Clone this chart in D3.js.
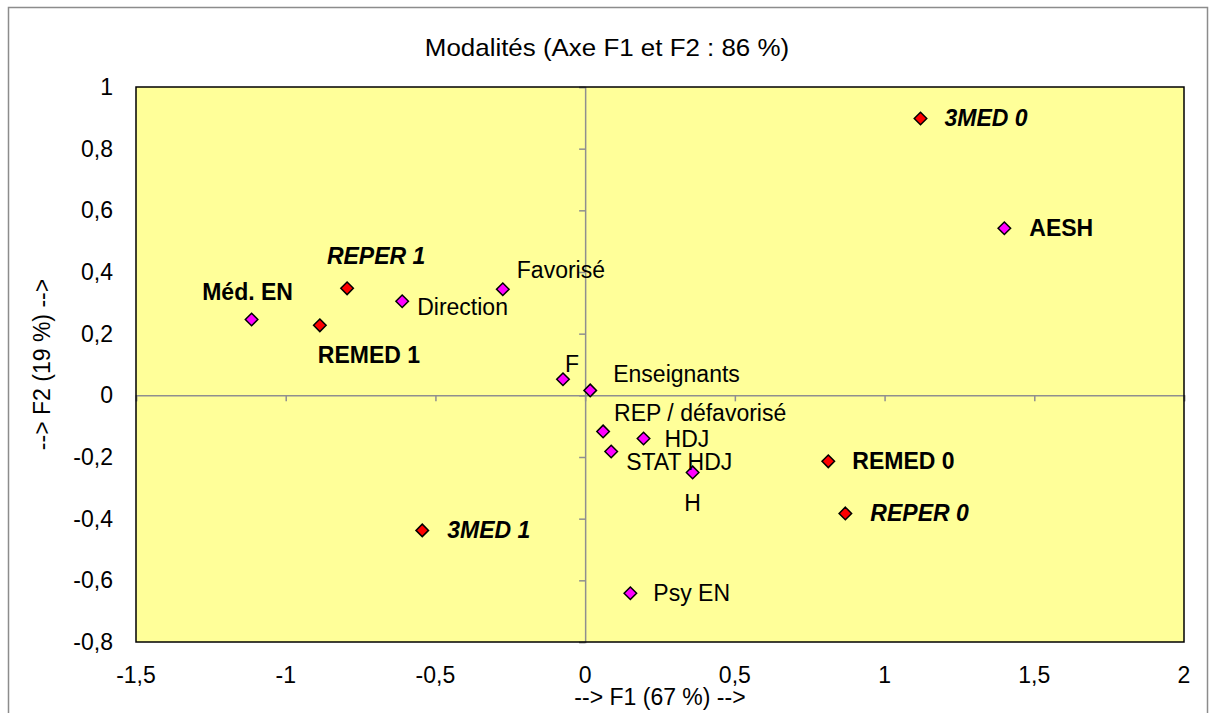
<!DOCTYPE html>
<html lang="fr">
  <head>
    <meta charset="utf-8">
    <script src="https://d3js.org/d3.v7.min.js"></script>
    <style>
      body {margin: 0; background: #fff;}
      text {font-family: "Liberation Sans", Arial, sans-serif; fill: #000;}
    </style>
  </head>
  <body>
    <script type="text/javascript">
      // modalities and their coordinates on F1 / F2
      const labels = ["3MED 0", "AESH", "REPER 1", "Méd. EN", "REMED 1", "Direction",
        "Favorisé", "F", "Enseignants", "REP / défavorisé", "HDJ", "STAT HDJ", "H",
        "REMED 0", "REPER 0", "3MED 1", "Psy EN"];
      const f1 = [1.12, 1.40, -0.795, -1.114, -0.886, -0.611, -0.275, -0.074, 0.017,
        0.06, 0.195, 0.087, 0.359, 0.812, 0.869, -0.544, 0.151];
      const f2 = [0.898, 0.542, 0.347, 0.246, 0.227, 0.305, 0.344, 0.052, 0.016,
        -0.117, -0.14, -0.182, -0.25, -0.214, -0.383, -0.438, -0.642];
      // "active" = red, "supp" = magenta
      const kind = ["active", "supp", "active", "supp", "active", "supp", "supp", "supp",
        "supp", "supp", "supp", "supp", "supp", "active", "active", "active", "supp"];
      const xTicks = [-1.5, -1, -0.5, 0, 0.5, 1, 1.5, 2];
      const yTicks = [-0.8, -0.6, -0.4, -0.2, 0, 0.2, 0.4, 0.6, 0.8, 1];

      // label placement (dx, dy in px, anchor) and font style, per point
      const place = [[24, 0, "start"], [25, 0, "start"], [29, -32, "middle"], [-4, -27, "middle"],
        [-2, 30, "start"], [15, 6, "start"], [14, -19, "start"], [2, -15, "start"],
        [23, -16, "start"], [11, -18, "start"], [21, 0, "start"], [15, 11, "start"],
        [0, 31, "middle"], [24, 0, "start"], [25, 0, "start"], [25, 0, "start"], [23, 0, "start"]];
      const fontStyle = ["bi", "b", "bi", "b", "b", "n", "n", "n", "n", "n", "n", "n", "n",
        "b", "bi", "bi", "n"];

      const w = 1211;
      const h = 713;
      const fs = 23;
      const plot = {left: 136, right: 1184, top: 87, bottom: 642};

      var svg = d3.select("body").append("svg")
          .attr("width", w)
          .attr("height", h);

      // outer chart frame
      svg.append("rect")
          .attr("x", 8.5).attr("y", 7.5)
          .attr("width", 1199).attr("height", 710)
          .attr("fill", "#fff")
          .attr("stroke", "#8c8c8c")
          .attr("stroke-width", 1.5);

      var x = d3.scaleLinear().domain([-1.5, 2]).range([plot.left, plot.right]);
      var y = d3.scaleLinear().domain([-0.8, 1]).range([plot.bottom, plot.top]);

      const fmt = function(d) { return String(d).replace(".", ","); };

      // plot area
      svg.append("rect")
          .attr("x", plot.left).attr("y", plot.top)
          .attr("width", plot.right - plot.left)
          .attr("height", plot.bottom - plot.top)
          .attr("fill", "#ffff99");

      // zero axes with ticks
      var xAxis = d3.axisBottom(x).tickValues(xTicks).tickSize(6).tickFormat("");
      var yAxis = d3.axisLeft(y).tickValues(yTicks).tickSize(6).tickFormat("");
      svg.append("g")
          .attr("transform", "translate(0," + y(0) + ")")
          .call(xAxis)
          .call(g => g.selectAll("path, line").attr("stroke", "#8f8f8f").attr("stroke-width", 1.5));
      svg.append("g")
          .attr("transform", "translate(" + x(0) + ",0)")
          .call(yAxis)
          .call(g => g.selectAll("path, line").attr("stroke", "#8f8f8f").attr("stroke-width", 1.5));

      // plot border
      svg.append("rect")
          .attr("x", plot.left).attr("y", plot.top)
          .attr("width", plot.right - plot.left)
          .attr("height", plot.bottom - plot.top)
          .attr("fill", "none")
          .attr("stroke", "#000")
          .attr("stroke-width", 1.5);

      // tick labels along plot edges
      svg.selectAll(".xlab")
          .data(xTicks)
          .enter().append("text")
          .attr("x", d => x(d))
          .attr("y", 683)
          .attr("text-anchor", "middle")
          .attr("font-size", fs)
          .text(fmt);
      svg.selectAll(".ylab")
          .data(yTicks)
          .enter().append("text")
          .attr("x", 113)
          .attr("y", d => y(d) + 8)
          .attr("text-anchor", "end")
          .attr("font-size", fs)
          .text(fmt);

      // titles
      svg.append("text")
          .attr("x", 607).attr("y", 56)
          .attr("text-anchor", "middle")
          .attr("font-size", 24)
          .attr("transform", "translate(607,0) scale(1.08,1) translate(-607,0)")
          .text("Modalités (Axe F1 et F2 : 86 %)");
      svg.append("text")
          .attr("x", (plot.left + plot.right) / 2).attr("y", 705)
          .attr("text-anchor", "middle")
          .attr("font-size", fs)
          .text("--> F1 (67 %) -->");
      svg.append("text")
          .attr("transform", "translate(50," + (plot.top + plot.bottom) / 2 + ") rotate(-90)")
          .attr("text-anchor", "middle")
          .attr("font-size", fs)
          .text("--> F2 (19 %) -->");

      // points
      var pts = labels.map(function(l, i) {
        return {label: l, x: f1[i], y: f2[i], kind: kind[i], place: place[i], style: fontStyle[i]};
      });

      svg.selectAll(".pt")
          .data(pts)
          .enter().append("path")
          .attr("class", "pt")
          .attr("d", d3.symbol().type(d3.symbolDiamond2).size(100))
          .attr("transform", d => "translate(" + x(d.x) + "," + y(d.y) + ")")
          .attr("fill", d => d.kind == "active" ? "#ff0000" : "#ff00ff")
          .attr("stroke", "#000")
          .attr("stroke-width", 1.5);

      svg.selectAll(".ptlab")
          .data(pts)
          .enter().append("text")
          .attr("class", "ptlab")
          .attr("x", d => x(d.x) + d.place[0])
          .attr("y", d => y(d.y) + d.place[1] + 8)
          .attr("text-anchor", d => d.place[2])
          .attr("font-size", fs)
          .attr("font-weight", d => d.style == "n" ? "normal" : "bold")
          .attr("font-style", d => d.style == "bi" ? "italic" : "normal")
          .text(d => d.label);
    </script>
  </body>
</html>
